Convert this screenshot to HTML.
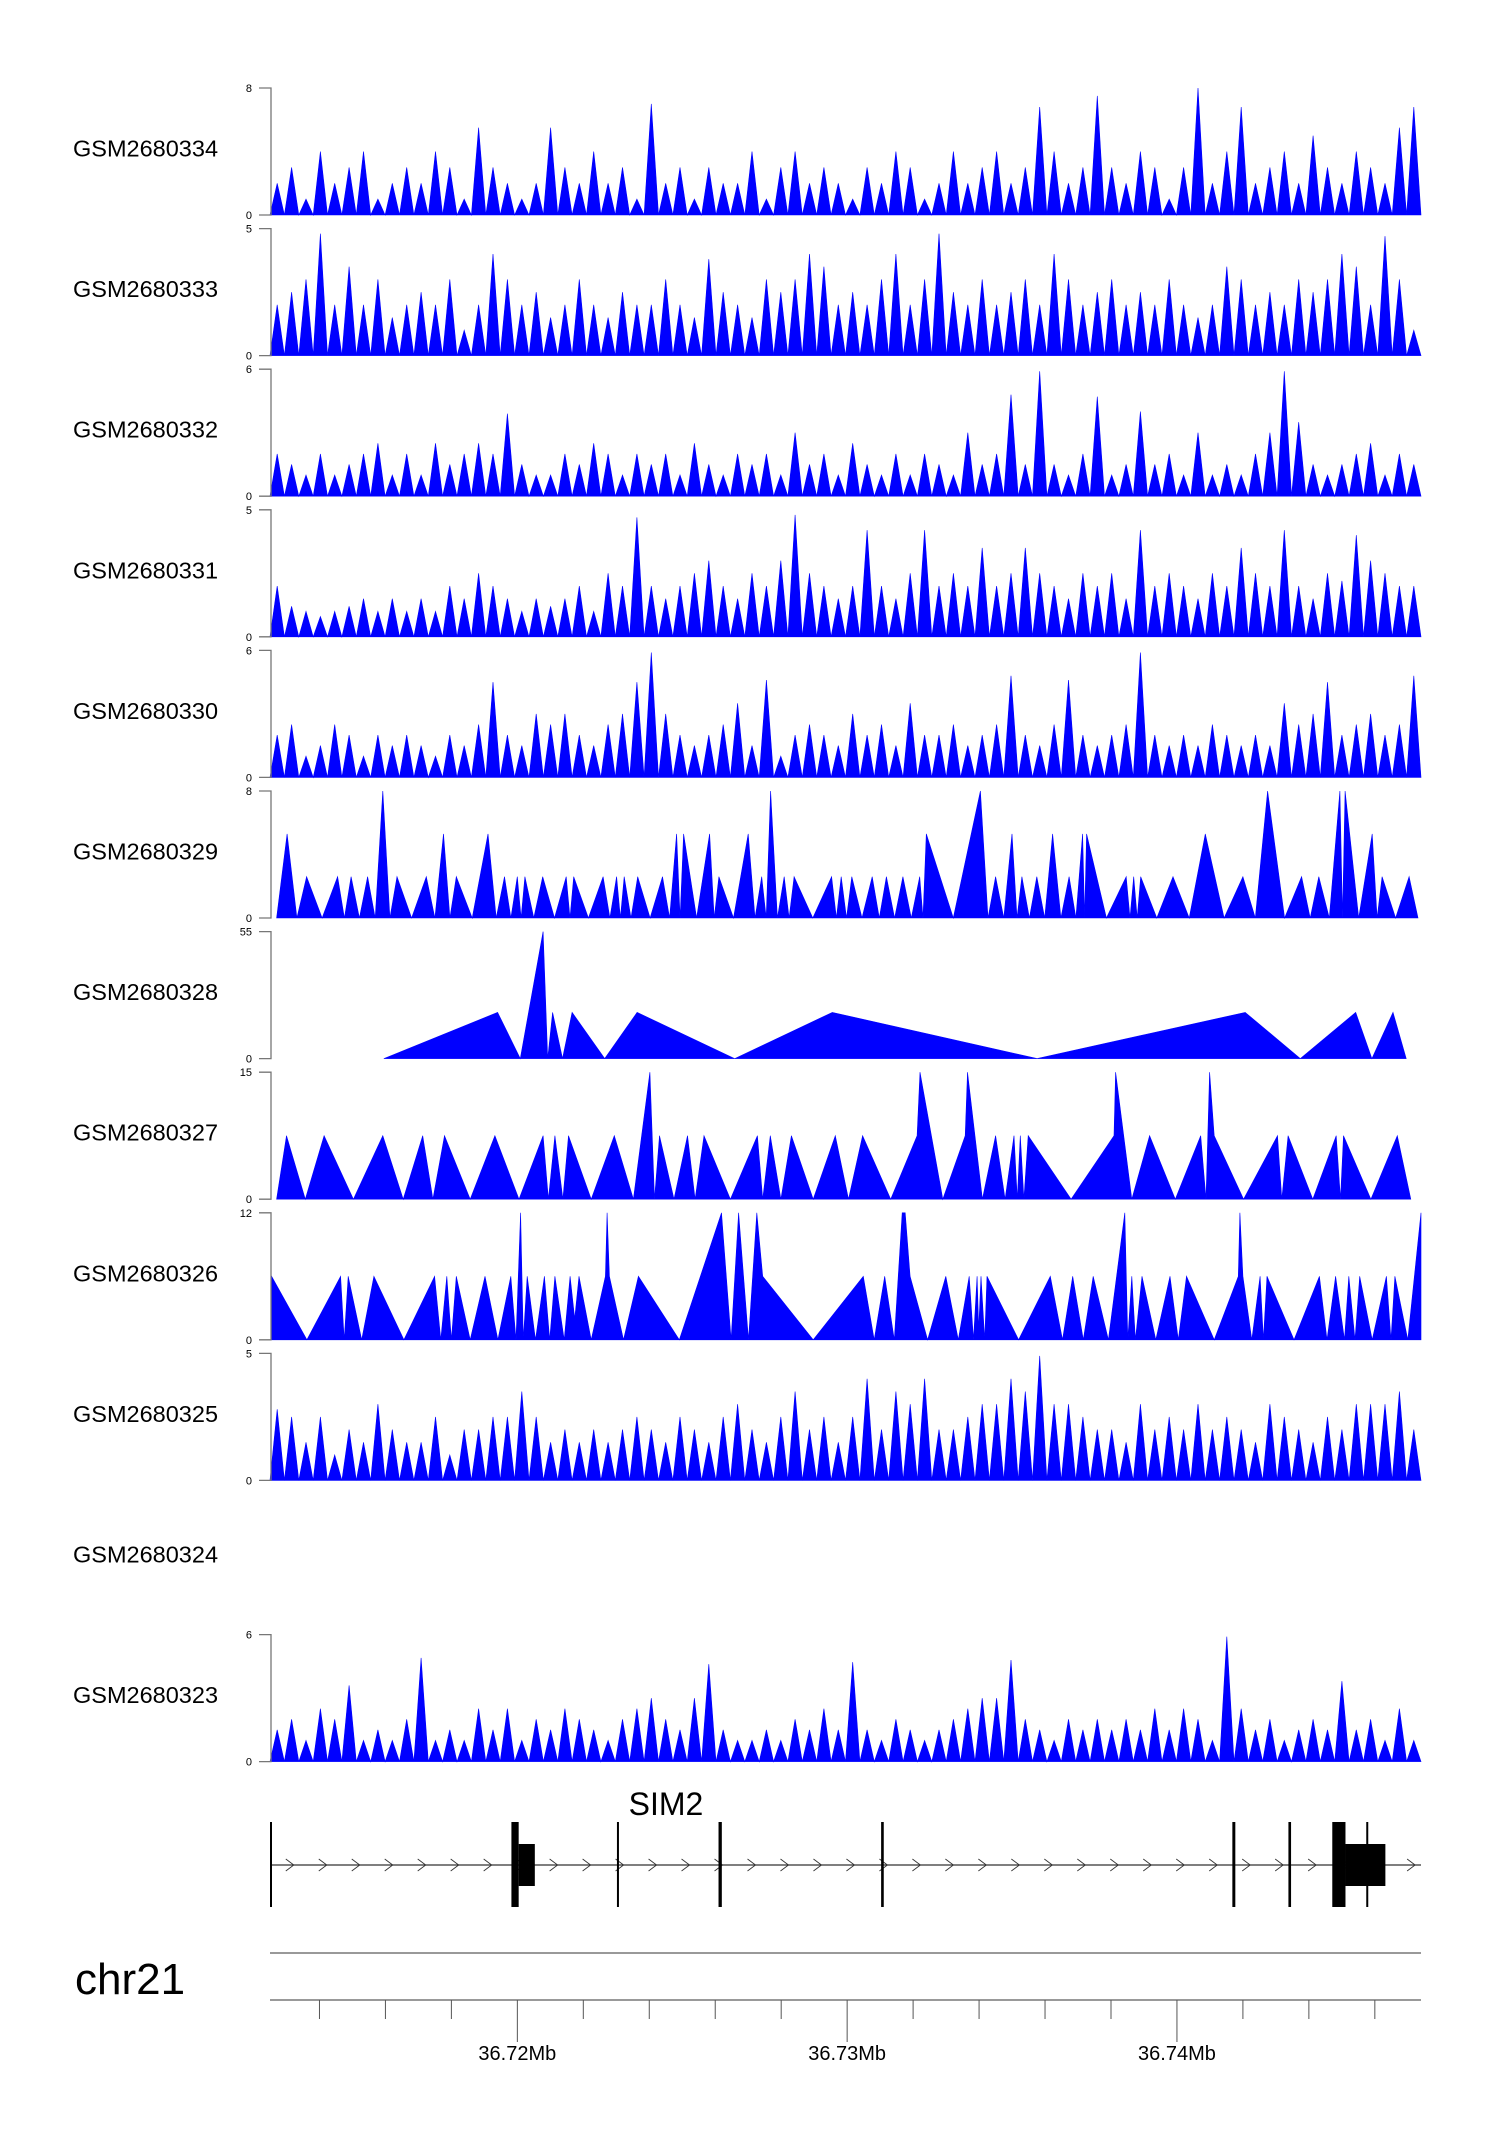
<!DOCTYPE html>
<html><head><meta charset="utf-8">
<style>
html,body{margin:0;padding:0;background:#fff;}
svg{display:block;font-family:"Liberation Sans",Arial,sans-serif;}
</style></head>
<body>
<svg id="chart" width="1500" height="2140" viewBox="0 0 1500 2140" xmlns="http://www.w3.org/2000/svg"></svg>
<script>
// genomic domain in kb offset from 36.70 Mb
const domainKb = [12.5, 47.4];
const trackNames = ["GSM2680334","GSM2680333","GSM2680332","GSM2680331","GSM2680330","GSM2680329","GSM2680328","GSM2680327","GSM2680326","GSM2680325","GSM2680324","GSM2680323"];
const trackMax = [8,5,6,5,6,8,55,15,12,5,null,6];
// dense tracks: uniform bin values
const t334 = [2,3,1,4,2,3,4,1,2,3, 2,4,3,1,5.5,3,2,1,2,5.5, 3,2,4,2,3,1,7,2,3,1, 3,2,2,4,1,3,4,2,3,2, 1,3,2,4,3,1,2,4,2,3, 4,2,3,6.8,4,2,3,7.5,3,2, 4,3,1,3,8,2,4,6.8,2,3, 4,2,5,3,2,4,3,2,5.5,6.8];
const t333 = [2,2.5,3,4.8,2,3.5,2,3,1.5,2, 2.5,2,3,1,2,4,3,2,2.5,1.5, 2,3,2,1.5,2.5,2,2,3,2,1.5, 3.8,2.5,2,1.5,3,2.5,3,4,3.5,2, 2.5,2,3,4,2,3,4.8,2.5,2,3, 2,2.5,3,2,4,3,2,2.5,3,2, 2.5,2,3,2,1.5,2,3.5,3,2,2.5, 2,3,2.5,3,4,3.5,2,4.7,3,1];
const t332 = [2,1.5,1,2,1,1.5,2,2.5,1,2, 1,2.5,1.5,2,2.5,2,3.9,1.5,1,1, 2,1.5,2.5,2,1,2,1.5,2,1,2.5, 1.5,1,2,1.5,2,1,3,1.5,2,1, 2.5,1.5,1,2,1,2,1.5,1,3,1.5, 2,4.8,1.5,5.9,1.5,1,2,4.7,1,1.5, 4,1.5,2,1,3,1,1.5,1,2,3, 5.9,3.5,1.5,1,1.5,2,2.5,1,2,1.5];
const t331 = [2,1.2,1,0.8,1,1.2,1.5,1,1.5,1, 1.5,1,2,1.5,2.5,2,1.5,1,1.5,1.2, 1.5,2,1,2.5,2,4.7,2,1.5,2,2.5, 3,2,1.5,2.5,2,3,4.8,2.5,2,1.5, 2,4.2,2,1.5,2.5,4.2,2,2.5,2,3.5, 2,2.5,3.5,2.5,2,1.5,2.5,2,2.5,1.5, 4.2,2,2.5,2,1.5,2.5,2,3.5,2.5,2, 4.2,2,1.5,2.5,2.2,4,3,2.5,2,2];
const t330 = [2,2.5,1,1.5,2.5,2,1,2,1.5,2, 1.5,1,2,1.5,2.5,4.5,2,1.5,3,2.5, 3,2,1.5,2.5,3,4.5,5.9,3,2,1.5, 2,2.5,3.5,1.5,4.6,1,2,2.5,2,1.5, 3,2,2.5,1.5,3.5,2,2,2.5,1.5,2, 2.5,4.8,2,1.5,2.5,4.6,2,1.5,2,2.5, 5.9,2,1.5,2,1.5,2.5,2,1.5,2,1.5, 3.5,2.5,3,4.5,2,2.5,3,2,2.5,4.8];
const t325 = [2.8,2.5,1.5,2.5,1,2,1.5,3,2,1.5, 1.5,2.5,1,2,2,2.5,2.5,3.5,2.5,1.5, 2,1.5,2,1.5,2,2.5,2,1.5,2.5,2, 1.5,2.5,3,2,1.5,2.5,3.5,2,2.5,1.5, 2.5,4,2,3.5,3,4,2,2,2.5,3, 3,4,3.5,4.9,3,3,2.5,2,2,1.5, 3,2,2.5,2,3,2,2.5,2,1.5,3, 2.5,2,1.5,2.5,2,3,3,3,3.5,2];
const t323 = [1.5,2,1,2.5,2,3.6,1,1.5,1,2, 4.9,1,1.5,1,2.5,1.5,2.5,1,2,1.5, 2.5,2,1.5,1,2,2.5,3,2,1.5,3, 4.6,1.5,1,1,1.5,1,2,1.5,2.5,1.5, 4.7,1.5,1,2,1.5,1,1.5,2,2.5,3, 3,4.8,2,1.5,1,2,1.5,2,1.5,2, 1.5,2.5,1.5,2.5,2,1,5.9,2.5,1.5,2, 1,1.5,2,1.5,3.8,1.5,2,1,2.5,1];
// peak track 329: peak positions (kb) and heights
const p329Pos = [13.02,13.61,14.55,14.96,15.46,15.92,16.35,17.24,17.76,18.15,19.11,19.61,20.00,20.23,20.77,21.48,21.71,22.60,23.01,23.24,23.65,24.40,24.83,25.04,25.83,26.11,27.00,27.41,27.68,28.09,28.39,29.53,29.82,30.14,30.76,31.19,31.69,32.20,32.40,34.04,34.50,35.00,35.30,35.75,36.23,36.73,37.14,37.26,38.46,38.69,38.90,39.88,40.86,42.00,42.75,43.78,44.30,44.94,45.10,45.92,46.22,47.04];
const p329Val = [5.3,2.6,2.6,2.6,2.6,8,2.6,2.6,5.3,2.6,5.3,2.6,2.6,2.6,2.6,2.6,2.6,2.6,2.6,2.6,2.6,2.6,5.3,5.3,5.3,2.6,5.3,2.6,8,2.6,2.6,2.6,2.6,2.6,2.6,2.6,2.6,2.6,5.3,8,2.6,5.3,2.6,2.6,5.3,2.6,5.3,5.3,2.6,2.6,2.6,2.6,5.3,2.6,8,2.6,2.6,8,8,5.3,2.6,2.6];
// sparse tracks: polyline vertices (kb, value)
const s328Pos = [15.95,19.40,20.09,20.78,20.92,21.07,21.37,21.66,22.65,23.63,26.59,29.55,35.76,42.07,43.74,45.42,45.91,46.55,46.95];
const s328Val = [0,20,0,55,0,20,0,20,0,20,0,20,0,20,0,20,0,20,0];
const s327Pos = [12.70,13.00,13.57,14.14,15.03,15.92,16.54,17.13,17.44,17.79,18.57,19.32,20.05,20.78,20.94,21.14,21.38,21.55,22.24,22.94,23.52,24.02,24.16,24.31,24.75,25.16,25.39,25.66,26.46,27.28,27.44,27.67,27.99,28.31,28.97,29.64,30.04,30.47,31.32,32.12,32.21,32.90,33.58,33.65,34.10,34.50,34.79,35.06,35.16,35.25,35.36,35.49,36.79,38.09,38.14,38.63,39.17,39.95,40.72,40.88,40.99,41.13,42.02,43.05,43.18,43.37,44.12,44.83,44.96,45.05,45.88,46.68,47.09];
const s327Val = [0,7.5,0,7.5,0,7.5,0,7.5,0,7.5,0,7.5,0,7.5,0,7.5,0,7.5,0,7.5,0,15,0,7.5,0,7.5,0,7.5,0,7.5,0,7.5,0,7.5,0,7.5,0,7.5,0,7.5,15,0,7.5,15,0,7.5,0,7.5,0,7.5,0,7.5,0,7.5,15,0,7.5,0,7.5,0,15,7.5,0,7.5,0,7.5,0,7.5,0,7.5,0,7.5,0];
const s326Pos = [12.55,13.62,14.64,14.75,14.87,15.28,15.65,16.56,17.49,17.68,17.86,18.00,18.15,18.57,19.02,19.41,19.80,19.96,20.10,20.18,20.30,20.55,20.82,20.98,21.14,21.42,21.60,21.74,21.87,22.24,22.67,22.72,22.79,23.22,23.67,24.91,26.19,26.48,26.71,27.01,27.26,27.44,28.97,30.49,30.82,31.14,31.43,31.67,31.76,31.91,32.44,32.99,33.37,33.70,33.83,33.94,33.99,34.06,34.17,34.24,35.20,36.16,36.53,36.84,37.16,37.46,37.92,38.42,38.51,38.63,38.74,38.94,39.36,39.79,40.04,40.29,41.13,41.86,41.91,42.00,42.27,42.52,42.62,42.73,43.55,44.32,44.55,44.81,45.08,45.21,45.40,45.54,45.92,46.35,46.49,46.61,47.00,47.4];
const s326Val = [6,0,6,0,6,0,6,0,6,0,6,0,6,0,6,0,6,0,12,0,6,0,6,0,6,0,6,2,6,0,6,12,6,0,6,0,12,0,12,0,12,6,0,6,0,6,0,12,12,6,0,6,0,6,0,6,1,6,0,6,0,6,0,6,0,6,0,12,0,6,0,6,0,6,0,6,0,6,12,6,0,6,0,6,0,6,0,6,0,6,0,6,0,6,0,6,0,12];
// gene model SIM2 exons
const exonStart = [12.50,19.82,23.02,26.10,31.03,41.68,43.38,44.71,45.74];
const exonEnd   = [12.56,20.04,23.08,26.20,31.11,41.77,43.38+0.08,45.11,45.80];
const cdsStart = [20.04,45.11];
const cdsEnd = [20.53,46.32];
const axisMajorKb = [20,30,40];
const axisMajorLabels = ["36.72Mb","36.73Mb","36.74Mb"];
const axisMinorKb = [14,16,18,22,24,26,28,32,34,36,38,42,44,46];

const svg = document.getElementById('chart');
const NS = 'http://www.w3.org/2000/svg';
const X0 = 270, X1 = 1421;
function xs(kb){ return X0 + (kb - domainKb[0]) / (domainKb[1] - domainKb[0]) * (X1 - X0); }
function mk(tag, attrs, parent){
  const e = document.createElementNS(NS, tag);
  for (const k in attrs) e.setAttribute(k, attrs[k]);
  (parent || svg).appendChild(e);
  return e;
}
const denseData = {"GSM2680334":t334,"GSM2680333":t333,"GSM2680332":t332,"GSM2680331":t331,"GSM2680330":t330,"GSM2680325":t325,"GSM2680323":t323};

trackNames.forEach((name, i) => {
  const top = 88 + 140.6 * i, zero = top + 127, h = 127;
  const g = mk('g', {});
  
  
  const lab = mk('text', {x: 73, y: (top + zero) / 2 + 5, 'font-size': 23.5, fill: '#000'}, g);
  lab.textContent = name;
  
  
  const max = trackMax[i];
  if (max === null) return;
  const ys = v => zero - v / max * h;
  let pts = [];
  if (denseData[name]) {
    const arr = denseData[name];
    const w = (domainKb[1] - domainKb[0]) / arr.length;
    pts.push([domainKb[0], 0]);
    arr.forEach((v, j) => {
      pts.push([domainKb[0] + (j + 0.5) * w, v]);
      pts.push([domainKb[0] + (j + 1) * w, 0]);
    });
  } else if (name === "GSM2680329") {
    pts.push([12.7, 0]);
    p329Pos.forEach((p, j) => {
      pts.push([p, p329Val[j]]);
      const nx = j < p329Pos.length - 1 ? (p + p329Pos[j + 1]) / 2 : 47.31;
      pts.push([nx, 0]);
    });
  } else {
    const P = name === "GSM2680328" ? s328Pos : name === "GSM2680327" ? s327Pos : s326Pos;
    const V = name === "GSM2680328" ? s328Val : name === "GSM2680327" ? s327Val : s326Val;
    P.forEach((p, j) => pts.push([Math.min(p, domainKb[1]), V[j]]));
    pts.push([pts[pts.length - 1][0], 0]);
    pts.unshift([P[0], 0]);
  }
  const poly = mk('polygon', {points: pts.map(p => xs(p[0]).toFixed(1) + ',' + ys(p[1]).toFixed(1)).join(' '), fill: '#0000FF', stroke: '#0000FF', 'stroke-width': 0.6}, g);
  
  
  const ax = mk('path', {d: `M259,${top}H271V${zero}H259`, fill: 'none', stroke: '#777', 'stroke-width': 1.3}, g);
  
  
  [[max, top], [0, zero]].forEach(([v, y]) => {
    const t = mk('text', {x: 252, y: y + 4, 'font-size': 11, 'text-anchor': 'end', fill: '#000'}, g);
    t.textContent = v;
    
    
  });
});

// gene track
const gg = mk('g', {});


const gname = mk('text', {x: 666, y: 1815, 'font-size': 32, 'text-anchor': 'middle', fill: '#000'}, gg);
gname.textContent = 'SIM2';


const gline = mk('line', {x1: X0, x2: X1, y1: 1865, y2: 1865, stroke: '#333', 'stroke-width': 1.2}, gg);


for (let kb = 13.1; kb < 47.3; kb += 1) {
  const x = xs(kb);
  const ch = mk('path', {d: `M${x - 4},${1859}L${x + 4},${1865}L${x - 4},${1871}`, fill: 'none', stroke: '#333', 'stroke-width': 0.9}, gg);
  
  
}
exonStart.forEach((s, j) => {
  const x = xs(s), w = Math.max(2, xs(exonEnd[j]) - x);
  const r = mk('rect', {x: x, y: 1822, width: w, height: 85, fill: '#000'}, gg);
  
  
});
cdsStart.forEach((s, j) => {
  const r = mk('rect', {x: xs(s), y: 1844, width: xs(cdsEnd[j]) - xs(s), height: 42, fill: '#000'}, gg);
  
  
});

// chromosome axis
const ag = mk('g', {});


const chr = mk('text', {x: 75, y: 1994, 'font-size': 44, fill: '#000'}, ag);
chr.textContent = 'chr21';


[1953, 2000].forEach(y => {
  const l = mk('line', {x1: X0, x2: X1, y1: y, y2: y, stroke: '#999', 'stroke-width': 2}, ag);
  
  
});
axisMinorKb.forEach(kb => {
  const l = mk('line', {x1: xs(kb), x2: xs(kb), y1: 2000, y2: 2019, stroke: '#555', 'stroke-width': 1}, ag);
  
  
});
axisMajorKb.forEach((kb, j) => {
  const l = mk('line', {x1: xs(kb), x2: xs(kb), y1: 2000, y2: 2042, stroke: '#555', 'stroke-width': 1}, ag);
  
  
  const t = mk('text', {x: xs(kb), y: 2060, 'font-size': 20, 'text-anchor': 'middle', fill: '#000'}, ag);
  t.textContent = axisMajorLabels[j];
  
  
});
</script>
</body></html>
